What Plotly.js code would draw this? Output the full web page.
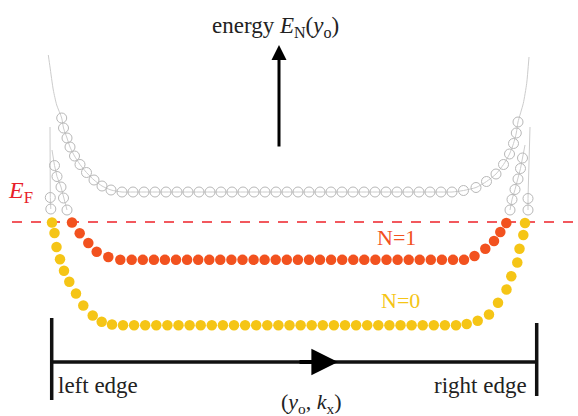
<!DOCTYPE html>
<html>
<head>
<meta charset="utf-8">
<script src="https://cdn.plot.ly/plotly-3.0.1.min.js"></script>
<style>html,body{margin:0;padding:0;background:#fff;}#chart{width:578px;height:416px;}</style>
</head>
<body>
<div id="chart"></div>
<script>
// guiding-centre position y0 (x) and energy E (arbitrary units)
const fermiEnergy = 14.0;

// N = 0 Landau level, states below E_F (filled, yellow)
const n0X = [-23.60, -23.35, -23.15, -22.80, -22.40, -21.87, -21.20, -20.47, -19.53, -18.63, -17.60,
  -16.50, -15.39, -14.28, -13.17, -12.06, -10.95, -9.84, -8.73, -7.62, -6.51, -5.40, -4.29, -3.18, -2.07, -0.96,
  0.15, 1.26, 2.37, 3.48, 4.59, 5.70, 6.81, 7.92, 9.03, 10.14, 11.25, 12.36, 13.47, 14.58, 15.69, 16.80,
  17.87, 18.97, 20.10, 21.00, 21.85, 22.33, 22.93, 23.15, 23.53, 23.70];
const n0E = [13.95, 12.90, 11.50, 10.27, 9.13, 8.03, 6.85, 5.65, 4.65, 4.03, 3.75,
  3.67, 3.67, 3.67, 3.67, 3.67, 3.67, 3.67, 3.67, 3.67, 3.67, 3.67, 3.67, 3.67, 3.67, 3.67,
  3.67, 3.67, 3.67, 3.67, 3.67, 3.67, 3.67, 3.67, 3.67, 3.67, 3.67, 3.67, 3.67, 3.67, 3.67, 3.67,
  3.80, 4.13, 4.75, 5.93, 7.25, 8.57, 9.95, 11.33, 12.70, 13.90];

// N = 1 Landau level, states below E_F (filled, orange)
const n1X = [-21.60, -20.83, -19.97, -19.13, -17.97, -16.77,
  -15.63, -14.52, -13.41, -12.31, -11.20, -10.09, -8.98, -7.87, -6.77, -5.66, -4.55, -3.44, -2.34, -1.23, -0.12,
  0.99, 2.10, 3.20, 4.31, 5.42, 6.53, 7.63, 8.74, 9.85, 10.96, 12.07, 13.17, 14.28, 15.39, 16.50, 17.60,
  18.65, 19.73, 20.60, 21.23, 21.83];
const n1E = [13.95, 12.87, 11.90, 11.03, 10.50, 10.23,
  10.22, 10.22, 10.22, 10.22, 10.22, 10.22, 10.22, 10.22, 10.22, 10.22, 10.22, 10.22, 10.22, 10.22, 10.22,
  10.22, 10.22, 10.22, 10.22, 10.22, 10.22, 10.22, 10.22, 10.22, 10.22, 10.22, 10.22, 10.22, 10.22, 10.22, 10.22,
  10.60, 11.33, 12.10, 13.00, 13.90];

// N = 2 Landau level (empty, grey circles)
const n2X = [-22.63, -22.45, -22.10, -21.80, -21.35, -20.80, -20.15, -19.40, -18.60, -17.70,
  -16.6, -15.5, -14.4, -13.3, -12.2, -11.1, -10.0, -8.9, -7.8, -6.7, -5.6, -4.5, -3.4, -2.3, -1.2, -0.1,
  1.0, 2.1, 3.2, 4.3, 5.4, 6.5, 7.6, 8.7, 9.8, 10.9, 12.0, 13.1, 14.2, 15.3, 16.4,
  17.55, 18.80, 19.85, 20.80, 21.55, 22.15, 22.55, 22.83, 23.00];
const n2E = [24.4, 23.4, 22.4, 21.5, 20.6, 19.75, 18.95, 18.2, 17.6, 17.2,
  17.0, 17.0, 17.0, 17.0, 17.0, 17.0, 17.0, 17.0, 17.0, 17.0, 17.0, 17.0, 17.0, 17.0, 17.0, 17.0,
  17.0, 17.0, 17.0, 17.0, 17.0, 17.0, 17.0, 17.0, 17.0, 17.0, 17.0, 17.0, 17.0, 17.0, 17.0,
  17.15, 17.45, 18.05, 18.8, 19.75, 20.8, 21.85, 22.9, 24.0];
const n2LeftWallX = [-23.97, -23.80, -23.47, -23.13];
const n2LeftWallE = [30.7, 29.5, 27.2, 25.7];
const n2RightWallX = [23.53, 23.87, 24.10];
const n2RightWallE = [25.87, 27.87, 30.5];

// N = 1 edge states above E_F (empty)
const n1UpLeftX = [-22.10, -22.45, -22.70, -23.10, -23.35];
const n1UpLeftE = [15.2, 16.4, 17.5, 18.55, 19.65];
const n1UpRightX = [22.20, 22.40, 22.70, 23.00, 23.25, 23.45];
const n1UpRightE = [15.2, 16.25, 17.25, 18.3, 19.35, 20.4];
const n1WallX = [-23.6, 23.7];
const n1WallE = [21.2, 21.7];

// N = 0 edge states above E_F (empty)
const n0UpLeftX = [-23.72, -23.77];
const n0UpLeftE = [15.3, 16.45];
const n0UpRightX = [24.0, 24.0];
const n0UpRightE = [15.2, 16.35];
const n0WallX = [-23.8, 24.2];
const n0WallE = [23.5, 23.5];

// edges of the sample
const leftEdgeX = -23.63, rightEdgeX = 24.87;

const GREY_LINE = '#cccccc';
const GREY_MARK = '#b8b8b8';
const ORANGE = '#f2521f';
const YELLOW = '#f5c516';
const SERIF = 'Liberation Serif, Times New Roman, serif';

const greyCircles = {symbol: 'circle-open', size: 10, color: GREY_MARK, line: {width: 1, color: GREY_MARK}};

const traces = [
  // grey guide lines
  {x: [...n2LeftWallX, ...n2X, ...n2RightWallX], y: [...n2LeftWallE, ...n2E, ...n2RightWallE],
   mode: 'lines', line: {color: GREY_LINE, width: 1, shape: 'spline', smoothing: 0.6}, hoverinfo: 'skip'},
  {x: [...n1UpLeftX, n1WallX[0], null, ...n1UpRightX, n1WallX[1]],
   y: [...n1UpLeftE, n1WallE[0], null, ...n1UpRightE, n1WallE[1]],
   mode: 'lines', line: {color: GREY_LINE, width: 1}, hoverinfo: 'skip'},
  {x: [...n0UpLeftX, n0WallX[0], null, ...n0UpRightX, n0WallX[1]],
   y: [...n0UpLeftE, n0WallE[0], null, ...n0UpRightE, n0WallE[1]],
   mode: 'lines', line: {color: GREY_LINE, width: 1}, hoverinfo: 'skip'},
  // empty states
  {x: n2X, y: n2E, mode: 'markers', marker: greyCircles},
  {x: [...n1UpLeftX, ...n1UpRightX], y: [...n1UpLeftE, ...n1UpRightE], mode: 'markers', marker: greyCircles},
  {x: [...n0UpLeftX, ...n0UpRightX], y: [...n0UpLeftE, ...n0UpRightE], mode: 'markers', marker: greyCircles},
  // filled states
  {x: n1X, y: n1E, mode: 'markers', marker: {size: 10.5, color: ORANGE}},
  {x: n0X, y: n0E, mode: 'markers', marker: {size: 10.5, color: YELLOW}}
];

const layout = {
  width: 578, height: 416,
  margin: {l: 0, r: 0, t: 0, b: 0},
  paper_bgcolor: '#ffffff', plot_bgcolor: '#ffffff',
  showlegend: false,
  xaxis: {range: [-28.8, 29.0], visible: false, fixedrange: true},
  yaxis: {range: [-5.4, 36.2], visible: false, fixedrange: true},
  shapes: [
    {type: 'line', xref: 'x', yref: 'y', x0: -27.6, x1: 29.0, y0: fermiEnergy, y1: fermiEnergy,
     line: {color: '#ee2229', width: 1.6, dash: '10px,9px'}, layer: 'below'},
    {type: 'line', xref: 'x', yref: 'y', x0: leftEdgeX, x1: rightEdgeX, y0: 0, y1: 0,
     line: {color: '#111', width: 3.5}},
    {type: 'line', xref: 'x', yref: 'y', x0: leftEdgeX, x1: leftEdgeX, y0: 4.4, y1: -3.8,
     line: {color: '#111', width: 3.5}},
    {type: 'line', xref: 'x', yref: 'y', x0: rightEdgeX, x1: rightEdgeX, y0: 3.9, y1: -3.4,
     line: {color: '#111', width: 3.5}}
  ],
  annotations: [
    // vertical energy arrow
    {x: -0.9, y: 31.7, ax: -0.9, ay: 21.4, axref: 'x', ayref: 'y', xref: 'x', yref: 'y',
     text: '', showarrow: true, arrowhead: 2, arrowwidth: 3, arrowsize: 1, arrowcolor: '#000', standoff: 0},
    // horizontal arrow head
    {x: 5.0, y: 0, ax: 1.0, ay: 0, axref: 'x', ayref: 'y', xref: 'x', yref: 'y',
     text: '', showarrow: true, arrowhead: 2, arrowwidth: 4, arrowsize: 1.33, arrowcolor: '#000', standoff: 0},
    {x: -1.3, y: 33.5, xref: 'x', yref: 'y', showarrow: false,
     text: 'energy <i>E</i><sub>N</sub>(<i>y</i><sub>o</sub>)', font: {family: SERIF, size: 23, color: '#222'}},
    {x: -26.8, y: 17.0, xref: 'x', yref: 'y', showarrow: false,
     text: '<i>E</i><sub>F</sub>', font: {family: SERIF, size: 24, color: '#e8202a'}},
    {x: 10.8, y: 12.5, xref: 'x', yref: 'y', showarrow: false,
     text: 'N=1', font: {family: SERIF, size: 22, color: ORANGE}},
    {x: 11.2, y: 6.2, xref: 'x', yref: 'y', showarrow: false,
     text: 'N=0', font: {family: SERIF, size: 22, color: YELLOW}},
    {x: -19.0, y: -2.3, xref: 'x', yref: 'y', showarrow: false,
     text: 'left edge', font: {family: SERIF, size: 23, color: '#222'}},
    {x: 19.2, y: -2.3, xref: 'x', yref: 'y', showarrow: false,
     text: 'right edge', font: {family: SERIF, size: 23, color: '#222'}},
    {x: 2.3, y: -4.1, xref: 'x', yref: 'y', showarrow: false,
     text: '(<i>y</i><sub>o</sub>, <i>k</i><sub>x</sub>)', font: {family: SERIF, size: 22, color: '#222'}}
  ]
};

Plotly.newPlot('chart', traces, layout, {staticPlot: true, displayModeBar: false});
</script>
</body>
</html>
